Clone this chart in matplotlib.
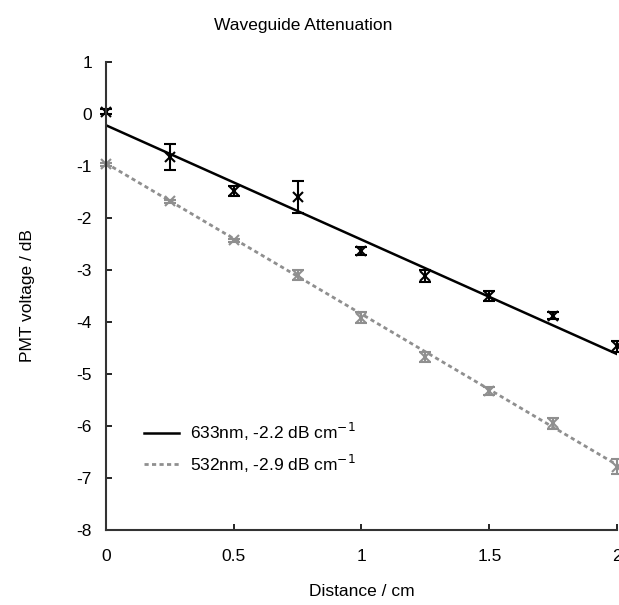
import matplotlib.pyplot as plt
import numpy as np

plt.rcParams["font.family"] = ["Liberation Sans", "DejaVu Sans"]
plt.rcParams["axes.unicode_minus"] = False

distance = [0.0, 0.25, 0.5, 0.75, 1.0, 1.25, 1.5, 1.75, 2.0]

# 633 nm measurements
red_v = [0.04, -0.84, -1.49, -1.6, -2.64, -3.12, -3.5, -3.88, -4.47]
red_err = [0.05, 0.25, 0.1, 0.3, 0.08, 0.12, 0.1, 0.07, 0.1]
red_slope, red_icpt = -2.2, -0.22

# 532 nm measurements
green_v = [-0.97, -1.68, -2.43, -3.1, -3.92, -4.68, -5.33, -5.95, -6.78]
green_err = [0.03, 0.03, 0.03, 0.1, 0.1, 0.1, 0.08, 0.1, 0.15]
green_slope, green_icpt = -2.9, -0.95

gray = "#8f8f8f"

fig = plt.figure(figsize=(6.19, 6.05), dpi=100)
ax = fig.add_axes([0.171, 0.124, 0.826, 0.774])

x = np.array(distance)
xfit = np.array([distance[0], distance[-1]])

ax.plot(xfit, red_icpt + red_slope * xfit, color="black", lw=1.8,
        label="633nm, -2.2 dB cm$^{-1}$")
ax.plot(xfit, green_icpt + green_slope * xfit, color=gray, lw=2.0,
        linestyle=(0, (1.5, 1.2)), label="532nm, -2.9 dB cm$^{-1}$")

ax.errorbar(x, red_v, yerr=red_err, fmt="x", color="black", ms=7, mew=1.5,
            capsize=4, elinewidth=1.5, capthick=1.5, clip_on=False)
ax.errorbar(x, green_v, yerr=green_err, fmt="x", color=gray, ms=7, mew=1.5,
            capsize=4, elinewidth=1.5, capthick=1.5, clip_on=False)

ax.set_xlim(0, 2)
ax.set_ylim(-8, 1)
ax.set_xticks([0, 0.5, 1, 1.5, 2])
ax.set_xticklabels(["0", "0.5", "1", "1.5", "2"])
ax.set_yticks(range(-8, 2))
ax.tick_params(direction="in", length=4, width=1.2, labelsize=12.5, pad=14)
ax.tick_params(axis="y", pad=10)

for side in ["top", "right"]:
    ax.spines[side].set_visible(False)
for side in ["left", "bottom"]:
    ax.spines[side].set_linewidth(1.5)
    ax.spines[side].set_color("#333333")

ax.set_xlabel("Distance / cm", fontsize=12.5, labelpad=14)
ax.set_ylabel("PMT voltage / dB", fontsize=12.5, labelpad=30)
fig.text(0.49, 0.958, "Waveguide Attenuation", fontsize=12.5, ha="center",
         va="center")

ax.legend(loc="lower left", bbox_to_anchor=(0.045, 0.085), frameon=False,
          fontsize=12.5, handlelength=2.0, handletextpad=0.6,
          labelspacing=0.55)

fig.savefig("out.png", dpi=100)
